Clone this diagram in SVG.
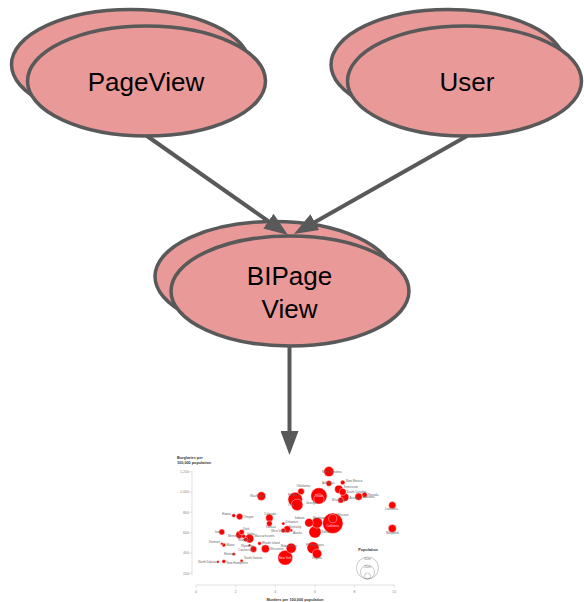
<svg xmlns="http://www.w3.org/2000/svg" width="584" height="602" viewBox="0 0 584 602">
<style>
.node{fill:#ea9999;stroke:#595959;stroke-width:3.5}
.lbl{font-family:"Liberation Sans",Arial,sans-serif;font-size:26px;fill:#000;text-anchor:middle}
.conn{stroke:#595959;stroke-width:4;fill:none}
.b{fill:#ff0000;stroke:#fff;stroke-width:0.4}
.st{font-family:"Liberation Sans",Arial,sans-serif;font-size:3px;fill:#666}
.stc{font-family:"Liberation Sans",Arial,sans-serif;font-size:3px;fill:#fde;text-anchor:middle}
.tk{font-family:"Liberation Sans",Arial,sans-serif;font-size:3.6px;fill:#888}
.ax{stroke:#ccc;stroke-width:0.6;fill:none}
.ttl{font-family:"Liberation Sans",Arial,sans-serif;font-size:3.8px;font-weight:bold;fill:#333}
.leg{fill:none;stroke:#777;stroke-width:0.4}
</style>
<defs>
<marker id="ah" viewBox="0 0 12 9" refX="9" refY="4.5" markerWidth="6" markerHeight="4.5" markerUnits="strokeWidth" orient="auto">
<path d="M0,0 L12,4.5 L0,9 z" fill="#595959"/>
</marker>
</defs>

<g id="node-pageview">
<ellipse class="node" cx="130.5" cy="64.5" rx="119" ry="55"/>
<ellipse class="node" cx="146.5" cy="81" rx="119" ry="55"/>
<text class="lbl" x="146" y="90.5">PageView</text>
</g>

<g id="node-user">
<ellipse class="node" cx="448" cy="64.5" rx="117" ry="55"/>
<ellipse class="node" cx="464.5" cy="81" rx="117" ry="55"/>
<text class="lbl" x="467" y="90.5">User</text>
</g>

<g id="node-bipageview">
<ellipse class="node" cx="274" cy="276.5" rx="119" ry="55"/>
<ellipse class="node" cx="290" cy="291" rx="119" ry="55"/>
<text class="lbl" x="289.5" y="285">BIPage</text>
<text class="lbl" x="289.5" y="317.5">View</text>
</g>

<g id="connectors">
<line class="conn" x1="147" y1="136" x2="283.1" y2="231.5" marker-end="url(#ah)"/>
<line class="conn" x1="467" y1="136" x2="299.2" y2="231" marker-end="url(#ah)"/>
<line class="conn" x1="289.5" y1="346" x2="289.5" y2="449" marker-end="url(#ah)"/>
</g>

<g id="chart">
<text class="ttl" x="177" y="458.5">Burglaries per</text>
<text class="ttl" x="177" y="463.5">100,000 population</text>
<line class="ax" x1="192" y1="471" x2="192" y2="575"/>
<g class="ax">
<line x1="189.5" y1="471.7" x2="192" y2="471.7"/>
<line x1="189.5" y1="492" x2="192" y2="492"/>
<line x1="189.5" y1="512.3" x2="192" y2="512.3"/>
<line x1="189.5" y1="532.6" x2="192" y2="532.6"/>
<line x1="189.5" y1="553" x2="192" y2="553"/>
<line x1="189.5" y1="573.3" x2="192" y2="573.3"/>
</g>
<g class="tk" text-anchor="end">
<text x="189" y="473">1,200</text>
<text x="189" y="493.3">1,000</text>
<text x="189" y="513.6">800</text>
<text x="189" y="533.9">600</text>
<text x="189" y="554.3">400</text>
<text x="189" y="574.6">200</text>
</g>
<line class="ax" x1="196" y1="585" x2="394.3" y2="585"/>
<g class="ax">
<line x1="196" y1="585" x2="196" y2="587.5"/>
<line x1="235.7" y1="585" x2="235.7" y2="587.5"/>
<line x1="275.3" y1="585" x2="275.3" y2="587.5"/>
<line x1="315" y1="585" x2="315" y2="587.5"/>
<line x1="354.6" y1="585" x2="354.6" y2="587.5"/>
<line x1="394.3" y1="585" x2="394.3" y2="587.5"/>
</g>
<g class="tk" text-anchor="middle">
<text x="196" y="592.5">0</text>
<text x="235.7" y="592.5">2</text>
<text x="275.3" y="592.5">4</text>
<text x="315" y="592.5">6</text>
<text x="354.6" y="592.5">8</text>
<text x="394.3" y="592.5">10</text>
</g>
<text class="ttl" x="295" y="600.5" text-anchor="middle">Murders per 100,000 population</text>

<g id="bubbles">
<circle class="b" cx="332.8" cy="523.2" r="10.2"/>
<circle class="b" cx="318.9" cy="495.9" r="8.1"/>
<circle class="b" cx="285.2" cy="557.7" r="7.4"/>
<circle class="b" cx="295.2" cy="499.5" r="7.2"/>
<circle class="b" cx="315.0" cy="532.0" r="6.1"/>
<circle class="b" cx="313.0" cy="547.8" r="6.0"/>
<circle class="b" cx="297.1" cy="504.9" r="5.8"/>
<circle class="b" cx="317.0" cy="522.8" r="5.4"/>
<circle class="b" cx="318.9" cy="499.0" r="5.1"/>
<circle class="b" cx="291.2" cy="548.2" r="5.0"/>
<circle class="b" cx="328.9" cy="471.6" r="5.0"/>
<circle class="b" cx="317.0" cy="553.8" r="4.7"/>
<circle class="b" cx="249.5" cy="538.6" r="4.3"/>
<circle class="b" cx="309.0" cy="522.7" r="4.3"/>
<circle class="b" cx="261.4" cy="496.1" r="4.3"/>
<circle class="b" cx="338.8" cy="489.3" r="4.1"/>
<circle class="b" cx="344.7" cy="497.3" r="4.1"/>
<circle class="b" cx="332.8" cy="518.6" r="4.1"/>
<circle class="b" cx="392.3" cy="528.5" r="4.0"/>
<circle class="b" cx="265.4" cy="548.8" r="4.0"/>
<circle class="b" cx="239.6" cy="534.8" r="3.8"/>
<circle class="b" cx="269.4" cy="517.9" r="3.7"/>
<circle class="b" cx="358.6" cy="496.7" r="3.6"/>
<circle class="b" cx="392.3" cy="505.2" r="3.6"/>
<circle class="b" cx="342.7" cy="491.9" r="3.5"/>
<circle class="b" cx="287.2" cy="529.2" r="3.5"/>
<circle class="b" cx="239.6" cy="516.6" r="3.2"/>
<circle class="b" cx="301.1" cy="491.4" r="3.2"/>
<circle class="b" cx="253.5" cy="549.2" r="3.2"/>
<circle class="b" cx="221.8" cy="532.0" r="2.9"/>
<circle class="b" cx="340.8" cy="500.2" r="2.9"/>
<circle class="b" cx="328.9" cy="483.4" r="2.8"/>
<circle class="b" cx="269.4" cy="523.6" r="2.8"/>
<circle class="b" cx="241.6" cy="532.1" r="2.7"/>
<circle class="b" cx="364.6" cy="494.8" r="2.6"/>
<circle class="b" cx="342.7" cy="482.5" r="2.3"/>
<circle class="b" cx="283.3" cy="530.5" r="2.3"/>
<circle class="b" cx="245.6" cy="539.5" r="2.3"/>
<circle class="b" cx="243.6" cy="536.3" r="2.0"/>
<circle class="b" cx="223.8" cy="545.0" r="1.9"/>
<circle class="b" cx="223.8" cy="561.4" r="1.9"/>
<circle class="b" cx="233.7" cy="515.6" r="1.9"/>
<circle class="b" cx="259.5" cy="543.4" r="1.8"/>
<circle class="b" cx="233.7" cy="554.1" r="1.6"/>
<circle class="b" cx="283.3" cy="523.6" r="1.6"/>
<circle class="b" cx="241.6" cy="560.7" r="1.5"/>
<circle class="b" cx="291.2" cy="530.4" r="1.4"/>
<circle class="b" cx="217.8" cy="561.9" r="1.4"/>
<circle class="b" cx="221.8" cy="543.7" r="1.3"/>
<circle class="b" cx="249.5" cy="545.2" r="1.2"/>
</g>

<g id="state-labels">
<text class="stc" x="332.8" y="527">California</text>
<text class="stc" x="318.9" y="497">Texas</text>
<text class="stc" x="285.2" y="558.8">New York</text>
<text class="st" x="288" y="496">Florida</text>
<text class="st" x="321.5" y="533">Illinois</text>
<text class="st" x="306" y="546">Pennsylvania</text>
<text class="st" x="288" y="506">Ohio</text>
<text class="st" x="313" y="519">Michigan</text>
<text class="st" x="306" y="504">Georgia</text>
<text class="st" x="281" y="547">New Jersey</text>
<text class="st" x="322" y="472.5">North Carolina</text>
<text class="st" x="312" y="559">Virginia</text>
<text class="st" x="254.5" y="537">Massachusetts</text>
<text class="st" x="304.5" y="518.5" text-anchor="end">Indiana</text>
<text class="st" x="250" y="497">Washington</text>
<text class="st" x="343.5" y="487.5">Tennessee</text>
<text class="st" x="349.5" y="499">Arizona</text>
<text class="st" x="337.5" y="516">Missouri</text>
<text class="st" x="386" y="533.5">Maryland</text>
<text class="st" x="270" y="549.5">Wisconsin</text>
<text class="st" x="228" y="537">Minnesota</text>
<text class="st" x="264" y="515">Colorado</text>
<text class="st" x="362.5" y="498">Alabama</text>
<text class="st" x="385" y="510">Louisiana</text>
<text class="st" x="346.5" y="493">South Carolina</text>
<text class="st" x="289" y="528">Kentucky</text>
<text class="st" x="243.5" y="517.5">Oregon</text>
<text class="st" x="296.5" y="487">Oklahoma</text>
<text class="st" x="238" y="550.5">Connecticut</text>
<text class="st" x="215" y="532.5">Iowa</text>
<text class="st" x="332" y="501">Mississippi</text>
<text class="st" x="322" y="484">Arkansas</text>
<text class="st" x="266" y="528">Kansas</text>
<text class="st" x="243" y="529.5">Utah</text>
<text class="st" x="368" y="495.5">Nevada</text>
<text class="st" x="346" y="482">New Mexico</text>
<text class="st" x="271" y="532">West Virginia</text>
<text class="st" x="238" y="541">Nebraska</text>
<text class="st" x="247" y="535">Idaho</text>
<text class="st" x="226.5" y="546">Maine</text>
<text class="st" x="226.5" y="563.5">New Hampshire</text>
<text class="st" x="231" y="514.5" text-anchor="end">Hawaii</text>
<text class="st" x="262" y="544">Rhode Island</text>
<text class="st" x="224" y="555">Montana</text>
<text class="st" x="285.5" y="522.5">Delaware</text>
<text class="st" x="244" y="559">South Dakota</text>
<text class="st" x="293" y="533.5">Alaska</text>
<text class="st" x="216" y="563" text-anchor="end">North Dakota</text>
<text class="st" x="220" y="543" text-anchor="end">Vermont</text>
<text class="st" x="241" y="547">Wyoming</text>
</g>

<g id="legend">
<text class="ttl" x="368" y="551" text-anchor="middle">Population</text>
<circle class="leg" cx="367.5" cy="568" r="11"/>
<circle class="leg" cx="367.5" cy="572" r="7"/>
<circle class="leg" cx="367.5" cy="576" r="3"/>
<text class="tk" x="367.5" y="559.5" text-anchor="middle" font-size="2.6">40m</text>
<text class="tk" x="367.5" y="567.5" text-anchor="middle" font-size="2.6">20m</text>
</g>
</g>
</svg>
